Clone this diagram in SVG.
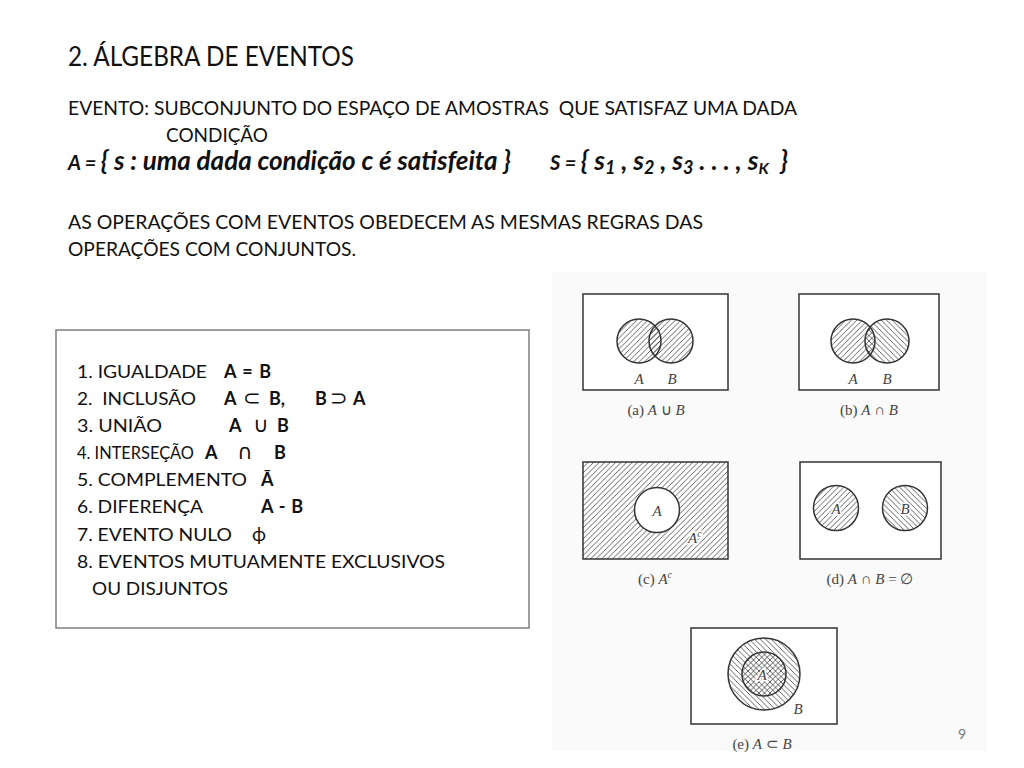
<svg xmlns="http://www.w3.org/2000/svg" width="1024" height="768" viewBox="0 0 1024 768">
<defs>
<style>
.t{font-family:Lato,"Liberation Sans",sans-serif;fill:#111}
.b{font-weight:bold}
.op{font-family:"DejaVu Sans",sans-serif;font-weight:normal}
.fi{font-style:italic;font-weight:bold}
.v{font-family:"Liberation Serif",serif;font-style:italic;font-size:15px;fill:#444}
.cap{font-family:"Liberation Serif",serif;font-size:15px;fill:#444}
.frame{stroke:#333;stroke-width:1.5}
.circ{stroke:#333;stroke-width:1.5}
.halo{paint-order:stroke;stroke:#fff;stroke-width:3px}
</style>
<pattern id="hR" width="5.5" height="5.5" patternUnits="userSpaceOnUse"><path d="M-1,1 L1,-1 M0,5.5 L5.5,0 M4.5,6.5 L6.5,4.5" stroke="#3a3a3a" stroke-width="0.8"/></pattern>
<pattern id="hL" width="5.5" height="5.5" patternUnits="userSpaceOnUse"><path d="M-1,4.5 L1,6.5 M0,0 L5.5,5.5 M4.5,-1 L6.5,1" stroke="#3a3a3a" stroke-width="0.8"/></pattern>
</defs>
<rect width="1024" height="768" fill="#fff"/>

<g id="title">
<text class="t" x="68" y="66" font-size="26" textLength="286" lengthAdjust="spacingAndGlyphs">2. ÁLGEBRA DE EVENTOS</text>
</g>
<g id="definition">
<text class="t" x="68" y="115" font-size="19" textLength="729" lengthAdjust="spacingAndGlyphs">EVENTO: SUBCONJUNTO DO ESPAÇO DE AMOSTRAS&#160; QUE SATISFAZ UMA DADA</text>
<text class="t" x="166" y="142" font-size="19" textLength="102" lengthAdjust="spacingAndGlyphs">CONDIÇÃO</text>
</g>
<g id="formula-A">
<text class="t fi" x="68" y="170" font-size="20">A = <tspan font-size="26">{ s : uma dada condição c é satisfeita }</tspan></text>
</g>
<g id="formula-S">
<text class="t fi" x="550" y="170" font-size="20">S = <tspan font-size="26.5">{ s</tspan><tspan font-size="18" dy="4">1</tspan><tspan font-size="26.5" dy="-4"> , s</tspan><tspan font-size="18" dy="4">2</tspan><tspan font-size="26.5" dy="-4"> , s</tspan><tspan font-size="18" dy="4">3</tspan><tspan font-size="26.5" dy="-4"> . . . , s</tspan><tspan font-size="16" dy="4">K</tspan><tspan font-size="26.5" dy="-4">&#160; }</tspan></text>
</g>
<g id="operations">
<text class="t" x="68" y="229" font-size="19" textLength="635" lengthAdjust="spacingAndGlyphs">AS OPERAÇÕES COM EVENTOS OBEDECEM AS MESMAS REGRAS DAS</text>
<text class="t" x="68" y="256" font-size="19" textLength="288" lengthAdjust="spacingAndGlyphs">OPERAÇÕES COM CONJUNTOS.</text>
</g>

<g id="list-box">
<rect x="56" y="330" width="473" height="298" fill="#fff" stroke="#7f7f7f" stroke-width="1.5"/>
<text class="t" x="77" y="378" font-size="18" textLength="130" lengthAdjust="spacingAndGlyphs">1. IGUALDADE</text><text class="t b" x="224" y="378" font-size="18" textLength="47" lengthAdjust="spacing">A = B</text>
<text class="t" x="77" y="405" font-size="18" textLength="119" lengthAdjust="spacingAndGlyphs">2.&#160; INCLUSÃO</text>
<text class="t b" x="224" y="405" font-size="18">A</text><text class="t op" x="243" y="405" font-size="21">⊂</text><text class="t b" x="269" y="405" font-size="18">B,</text>
<text class="t b" x="315" y="405" font-size="18">B</text><text class="t op" x="330" y="405" font-size="21">⊃</text><text class="t b" x="353" y="405" font-size="18">A</text>
<text class="t" x="77" y="432" font-size="18" textLength="85" lengthAdjust="spacingAndGlyphs">3. UNIÃO</text>
<text class="t b" x="229" y="432" font-size="18">A</text><text class="t op" x="253" y="432" font-size="21">∪</text><text class="t b" x="277" y="432" font-size="18">B</text>
<text class="t" x="77" y="459" font-size="18" textLength="117" lengthAdjust="spacingAndGlyphs">4. INTERSEÇÃO</text>
<text class="t b" x="205" y="459" font-size="18">A</text><text class="t op" x="237" y="459" font-size="21">∩</text><text class="t b" x="274" y="459" font-size="18">B</text>
<text class="t" x="77" y="486" font-size="18" textLength="170" lengthAdjust="spacingAndGlyphs">5. COMPLEMENTO</text><text class="t b" x="261" y="486" font-size="18">Ā</text>
<text class="t" x="77" y="513" font-size="18" textLength="126" lengthAdjust="spacingAndGlyphs">6. DIFERENÇA</text><text class="t b" x="261" y="513" font-size="18" textLength="42" lengthAdjust="spacing">A - B</text>
<text class="t" x="77" y="541" font-size="18" textLength="155" lengthAdjust="spacingAndGlyphs">7. EVENTO NULO</text><text class="t" x="252" y="541" font-size="19" font-family="'Liberation Serif',serif">ϕ</text>
<text class="t" x="77" y="568" font-size="18" textLength="368" lengthAdjust="spacingAndGlyphs">8. EVENTOS MUTUAMENTE EXCLUSIVOS</text>
<text class="t" x="92" y="595" font-size="18" textLength="136" lengthAdjust="spacingAndGlyphs">OU DISJUNTOS</text>
</g>

<rect x="552" y="272" width="435" height="479" fill="#fafafa"/>

<g id="venn-a">
<rect x="583" y="294" width="145" height="96" fill="#fff" class="frame"/>
<circle cx="639" cy="341" r="22" fill="url(#hR)" class="circ"/>
<circle cx="671" cy="341" r="22" fill="url(#hR)" class="circ"/>
<text class="v" x="639" y="384" text-anchor="middle">A</text>
<text class="v" x="672" y="384" text-anchor="middle">B</text>
<text class="cap" x="656" y="415" text-anchor="middle">(a) <tspan font-style="italic">A</tspan> ∪ <tspan font-style="italic">B</tspan></text>
</g>

<g id="venn-b">
<rect x="799" y="294" width="140" height="96" fill="#fff" class="frame"/>
<circle cx="853" cy="341" r="22" fill="url(#hR)" class="circ"/>
<circle cx="887" cy="341" r="22" fill="url(#hL)" class="circ"/>
<text class="v" x="853" y="384" text-anchor="middle">A</text>
<text class="v" x="887" y="384" text-anchor="middle">B</text>
<text class="cap" x="869" y="415" text-anchor="middle">(b) <tspan font-style="italic">A</tspan> ∩ <tspan font-style="italic">B</tspan></text>
</g>

<g id="venn-c">
<rect x="583" y="462" width="145" height="97" fill="#fff"/>
<rect x="583" y="462" width="145" height="97" fill="url(#hR)" class="frame"/>
<circle cx="657" cy="510" r="22.5" fill="#fff" class="circ"/>
<text class="v" x="657" y="516" text-anchor="middle">A</text>
<text class="v halo" x="688" y="543">A<tspan font-size="10" dy="-6">c</tspan></text>
<text class="cap" x="655" y="584" text-anchor="middle">(c) <tspan font-style="italic">A</tspan><tspan font-style="italic" font-size="10" dy="-6">c</tspan></text>
</g>

<g id="venn-d">
<rect x="800" y="462" width="141" height="97" fill="#fff" class="frame"/>
<circle cx="836" cy="508" r="22.5" fill="url(#hR)" class="circ"/>
<circle cx="905" cy="508" r="22.5" fill="url(#hL)" class="circ"/>
<text class="v halo" x="836" y="514" text-anchor="middle">A</text>
<text class="v halo" x="905" y="514" text-anchor="middle">B</text>
<text class="cap" x="870" y="584" text-anchor="middle">(d) <tspan font-style="italic">A</tspan> ∩ <tspan font-style="italic">B</tspan> = ∅</text>
</g>

<g id="venn-e">
<rect x="691" y="628" width="146" height="96" fill="#fff" class="frame"/>
<circle cx="764" cy="674" r="36" fill="url(#hL)" class="circ"/>
<circle cx="764" cy="674" r="22" fill="url(#hR)" class="circ"/>
<text class="v halo" x="762" y="680" text-anchor="middle">A</text>
<text class="v" x="798" y="714" text-anchor="middle">B</text>
<text class="cap" x="762" y="749" text-anchor="middle">(e) <tspan font-style="italic">A</tspan> ⊂ <tspan font-style="italic">B</tspan></text>
</g>

<g id="page-number">
<text class="t" x="958" y="739" font-size="14" style="fill:#777">9</text>
</g>
</svg>
